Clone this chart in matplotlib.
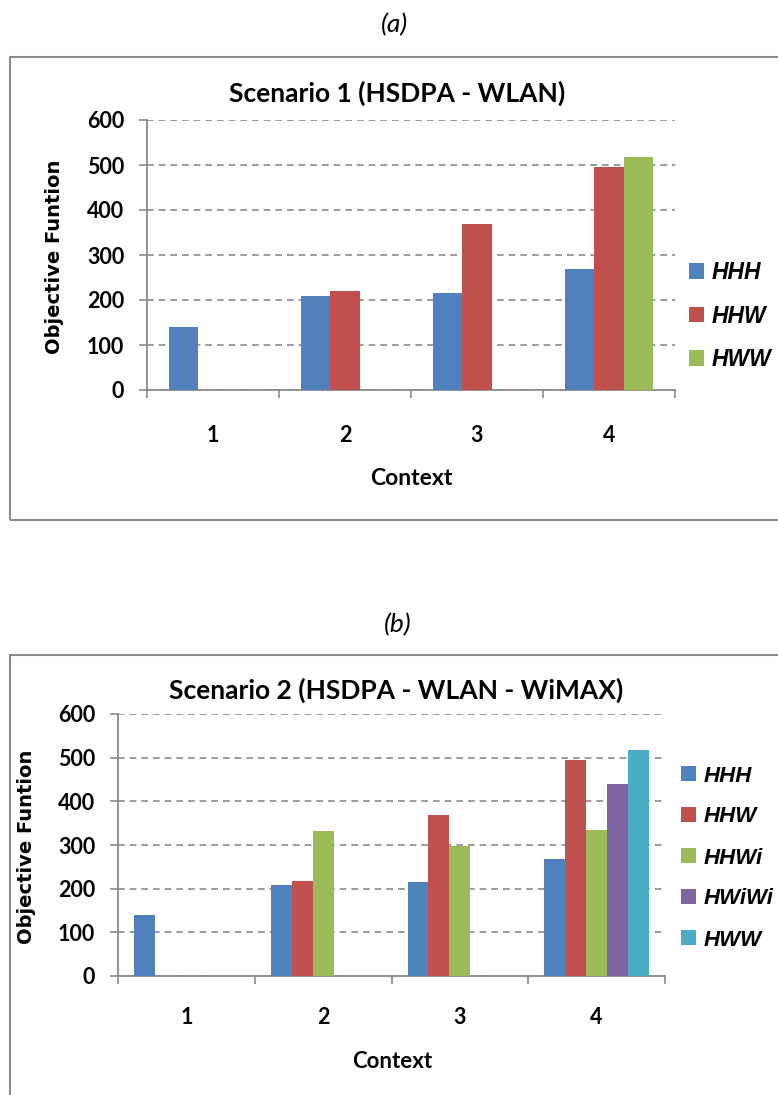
import numpy as np
import matplotlib
matplotlib.use("Agg")
import matplotlib.pyplot as plt
from matplotlib.patches import Rectangle, Patch

W, H = 778, 1095

contexts = ["1", "2", "3", "4"]

# Scenario 1 (HSDPA - WLAN)
s1_names = ["HHH", "HHW", "HWW"]
s1_hhh = [141, 209, 216, 268]
s1_hhw = [0, 219, 368, 496]
s1_hww = [0, 0, 0, 518]

# Scenario 2 (HSDPA - WLAN - WiMAX)
s2_names = ["HHH", "HHW", "HHWi", "HWiWi", "HWW"]
s2_hhh = [140, 208, 215, 268]
s2_hhw = [0, 218, 368, 495]
s2_hhwi = [0, 332, 298, 335]
s2_hwiwi = [0, 0, 0, 440]
s2_hww = [0, 0, 0, 518]

colors = ["#4F81BD", "#C0504D", "#9BBB59", "#8064A2", "#4BACC6"]
grey = "#8a8a8a"
font = "Lato"


def fx(px):
    return px / W


def fy(py):
    return 1 - py / H


def panel(fig, tag, tag_xy, box, axpx, title, title_xy, xlab_xy, ylab_xy,
          series, names, barw, xpad, leg_xy, xlab_size, leg_size):
    # outer frame
    bx0, by0, bx1, by1 = box
    fig.add_artist(Rectangle((fx(bx0), fy(by1)), (bx1 - bx0) / W, (by1 - by0) / H,
                             transform=fig.transFigure, fill=False,
                             edgecolor=grey, lw=1.5))
    fig.text(fx(tag_xy[0]), fy(tag_xy[1]), tag, ha="center", va="center",
             fontsize=19, style="italic", family=font)

    l, t, r, b = axpx
    ax = fig.add_axes([fx(l), fy(b), (r - l) / W, (b - t) / H])
    x = np.arange(len(contexts)) + 1
    n = len(series)
    for i, vals in enumerate(series):
        ax.bar(x + (i - (n - 1) / 2) * barw, vals, barw, color=colors[i],
               linewidth=0, zorder=3)

    ax.set_xlim(0.5, 4.5)
    ax.set_ylim(0, 600)
    ax.set_yticks(range(0, 601, 100))
    ax.set_xticks(x, contexts)
    ax.set_xticks(np.arange(0.5, 5, 1), minor=True)
    ax.tick_params(axis="x", which="major", length=0, pad=xpad)
    ax.tick_params(axis="x", which="minor", length=5.5, width=1.2, color=grey)
    ax.tick_params(axis="y", length=5.5, width=1.2, color=grey, pad=11)
    for lab in ax.get_xticklabels() + ax.get_yticklabels():
        lab.set_fontfamily(font)
        lab.set_fontweight("bold")
        lab.set_fontsize(15.5)
    ax.yaxis.grid(True, linestyle=(0, (4, 3)), color=grey, lw=1.2)
    ax.set_axisbelow(True)
    for s in ["top", "right"]:
        ax.spines[s].set_visible(False)
    for s in ["left", "bottom"]:
        ax.spines[s].set_color(grey)
        ax.spines[s].set_linewidth(1.3)

    fig.text(fx(title_xy[0]), fy(title_xy[1]), title, ha="center", va="center",
             fontsize=19, fontweight="bold", family=font)
    fig.text(fx(xlab_xy[0]), fy(xlab_xy[1]), "Context", ha="center", va="center",
             fontsize=xlab_size, fontweight="bold", family=font)
    fig.text(fx(ylab_xy[0]), fy(ylab_xy[1]), "Objective Funtion", ha="center",
             va="center", rotation=90, fontsize=14, fontweight="bold",
             family="DejaVu Sans")

    handles = [Patch(facecolor=colors[i], edgecolor="none", label=nm)
               for i, nm in enumerate(names)]
    fig.legend(handles=handles, loc="center left",
               bbox_to_anchor=(fx(leg_xy[0]), fy(leg_xy[1])), frameon=False,
               prop={"family": "Liberation Sans", "weight": "bold",
                     "style": "italic", "size": leg_size},
               handlelength=0.66, handleheight=0.66, handletextpad=0.34,
               labelspacing=0.9, borderpad=0, borderaxespad=0)
    return ax


fig = plt.figure(figsize=(W / 100, H / 100), dpi=100)
fig.patch.set_facecolor("white")

panel(fig, "(a)", (394, 25), (10, 57, 790, 520), (147, 120, 675, 390),
      "Scenario 1 (HSDPA - WLAN)", (397, 93), (411, 479), (54, 257),
      [s1_hhh, s1_hhw, s1_hww], s1_names, 0.22, 25, (689, 316), 16.5, 16.5)

panel(fig, "(b)", (398, 625), (10, 655, 790, 1110), (118, 714, 665, 976),
      "Scenario 2 (HSDPA - WLAN - WiMAX)", (396, 690), (392, 1061), (27, 847),
      [s2_hhh, s2_hhw, s2_hhwi, s2_hwiwi, s2_hww], s2_names, 0.153, 22, (681, 858),
      16, 16)

fig.savefig("out.png", dpi=100)
